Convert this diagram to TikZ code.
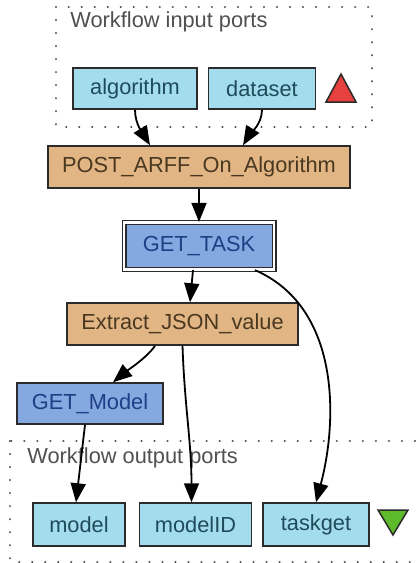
\documentclass[tikz,border=0pt]{standalone}
\usepackage{fontspec}
\setmainfont{Liberation Sans}
\usepackage{tikz}
\usetikzlibrary{arrows.meta, positioning, calc}
\definecolor{portfill}{HTML}{A3DCEC}
\definecolor{porttext}{HTML}{1F4B5C}
\definecolor{servfill}{HTML}{E2B684}
\definecolor{servtext}{HTML}{4A3820}
\definecolor{restfill}{HTML}{86A8E0}
\definecolor{resttext}{HTML}{1E3F85}
\definecolor{boxline}{HTML}{2B2B2B}
\definecolor{grouptext}{HTML}{505050}
\definecolor{inmark}{HTML}{E6403F}
\definecolor{outmark}{HTML}{5DBA2A}
\tikzstyle{box} = [rectangle, minimum height=20.5pt, inner sep=0pt, text centered, draw=boxline, line width=0.75pt, font=\fontsize{10.9}{13}\selectfont]
\tikzstyle{port} = [box, fill=portfill, text=porttext]
\tikzstyle{service} = [box, minimum height=21pt, fill=servfill, text=servtext]
\tikzstyle{rest} = [box, fill=restfill, text=resttext]
\tikzstyle{nested} = [rest, double=white, double distance=1.3pt, line width=0.6pt]
\tikzstyle{grouplabel} = [anchor=base west, inner sep=0pt, text=grouptext, font=\fontsize{10.9}{13}\selectfont]
\tikzstyle{portgroup} = [draw=black!70, line width=1.2pt, dash pattern=on 0.01pt off 6.5pt, line cap=round]
\tikzstyle{arrow} = [line width=0.9pt, black, -{Triangle[length=9.5pt,width=7.5pt]}]

\begin{document}
\begin{tikzpicture}[x=0.5pt, y=-0.5pt]
\fill[white] (0,0) rectangle (418,563);
\useasboundingbox (0,0) rectangle (418,563);
\clip (0,0) rectangle (418,563);

% port groups
\draw[portgroup] (56,7) rectangle (372,127);
\draw[portgroup] (10,441) rectangle (430,562);
\node (inlabel) [grouplabel] at (70,27.5) {Workflow input ports};
\node (outlabel) [grouplabel] at (27,463) {Workflow output ports};

% inputs
\node (algorithm) [port, minimum width=62pt] at (135,88.5) {algorithm};
\node (dataset) [port, minimum width=53.5pt, right=5pt of algorithm] {dataset};
\draw[fill=inmark, draw=boxline, line width=0.75pt] (326,102) -- (356,102) -- (341,74) -- cycle;

% processors
\node (post) [service, minimum width=151pt] at (199,167) {POST\_ARFF\_On\_Algorithm};
\node (task) [nested, minimum width=75pt, minimum height=23.5pt] at (199,246) {GET\_TASK};
\node (extract) [service, minimum width=115.5pt] at (182.5,324) {Extract\_JSON\_value};
\node (getmodel) [rest, minimum width=73pt] at (90,403.5) {GET\_Model};

% outputs
\node (model) [port, minimum width=46pt, minimum height=21.5pt] at (79,524.5) {model};
\node (modelID) [port, minimum width=56pt, minimum height=21.5pt, right=6.5pt of model] {modelID};
\node (taskget) [port, minimum width=53pt, minimum height=21.5pt, right=5pt of modelID] {taskget};
\draw[fill=outmark, draw=boxline, line width=0.75pt] (378,510) -- (408,510) -- (393,535) -- cycle;

% links
\draw [arrow] (algorithm.south) .. controls +(0,15) and +(-6,-10) .. ($(post.north)+(-49,0)$);
\draw [arrow] (dataset.south) .. controls +(0,15) and +(6,-10) .. ($(post.north)+(44,0)$);
\draw [arrow] (post.south) -- (task.north);
\draw [arrow] ($(task.south)+(-6,0)$) -- ($(extract.north)+(7.5,0)$);
\draw [arrow] ($(task.south)+(56,0)$) .. controls +(85,37) and +(22,-83) .. (taskget.north);
\draw [arrow] ($(extract.south)+(-27.5,0)$) .. controls +(-8,12) and +(12,-10) .. ($(getmodel.north)+(23,0)$);
\draw [arrow] (extract.south) .. controls +(2,60) and +(0,-60) .. ($(modelID.north)+(-4,0)$);
\draw [arrow] ($(getmodel.south)+(-5,0)$) -- ($(model.north)+(-3,0)$);

\end{tikzpicture}
\end{document}
